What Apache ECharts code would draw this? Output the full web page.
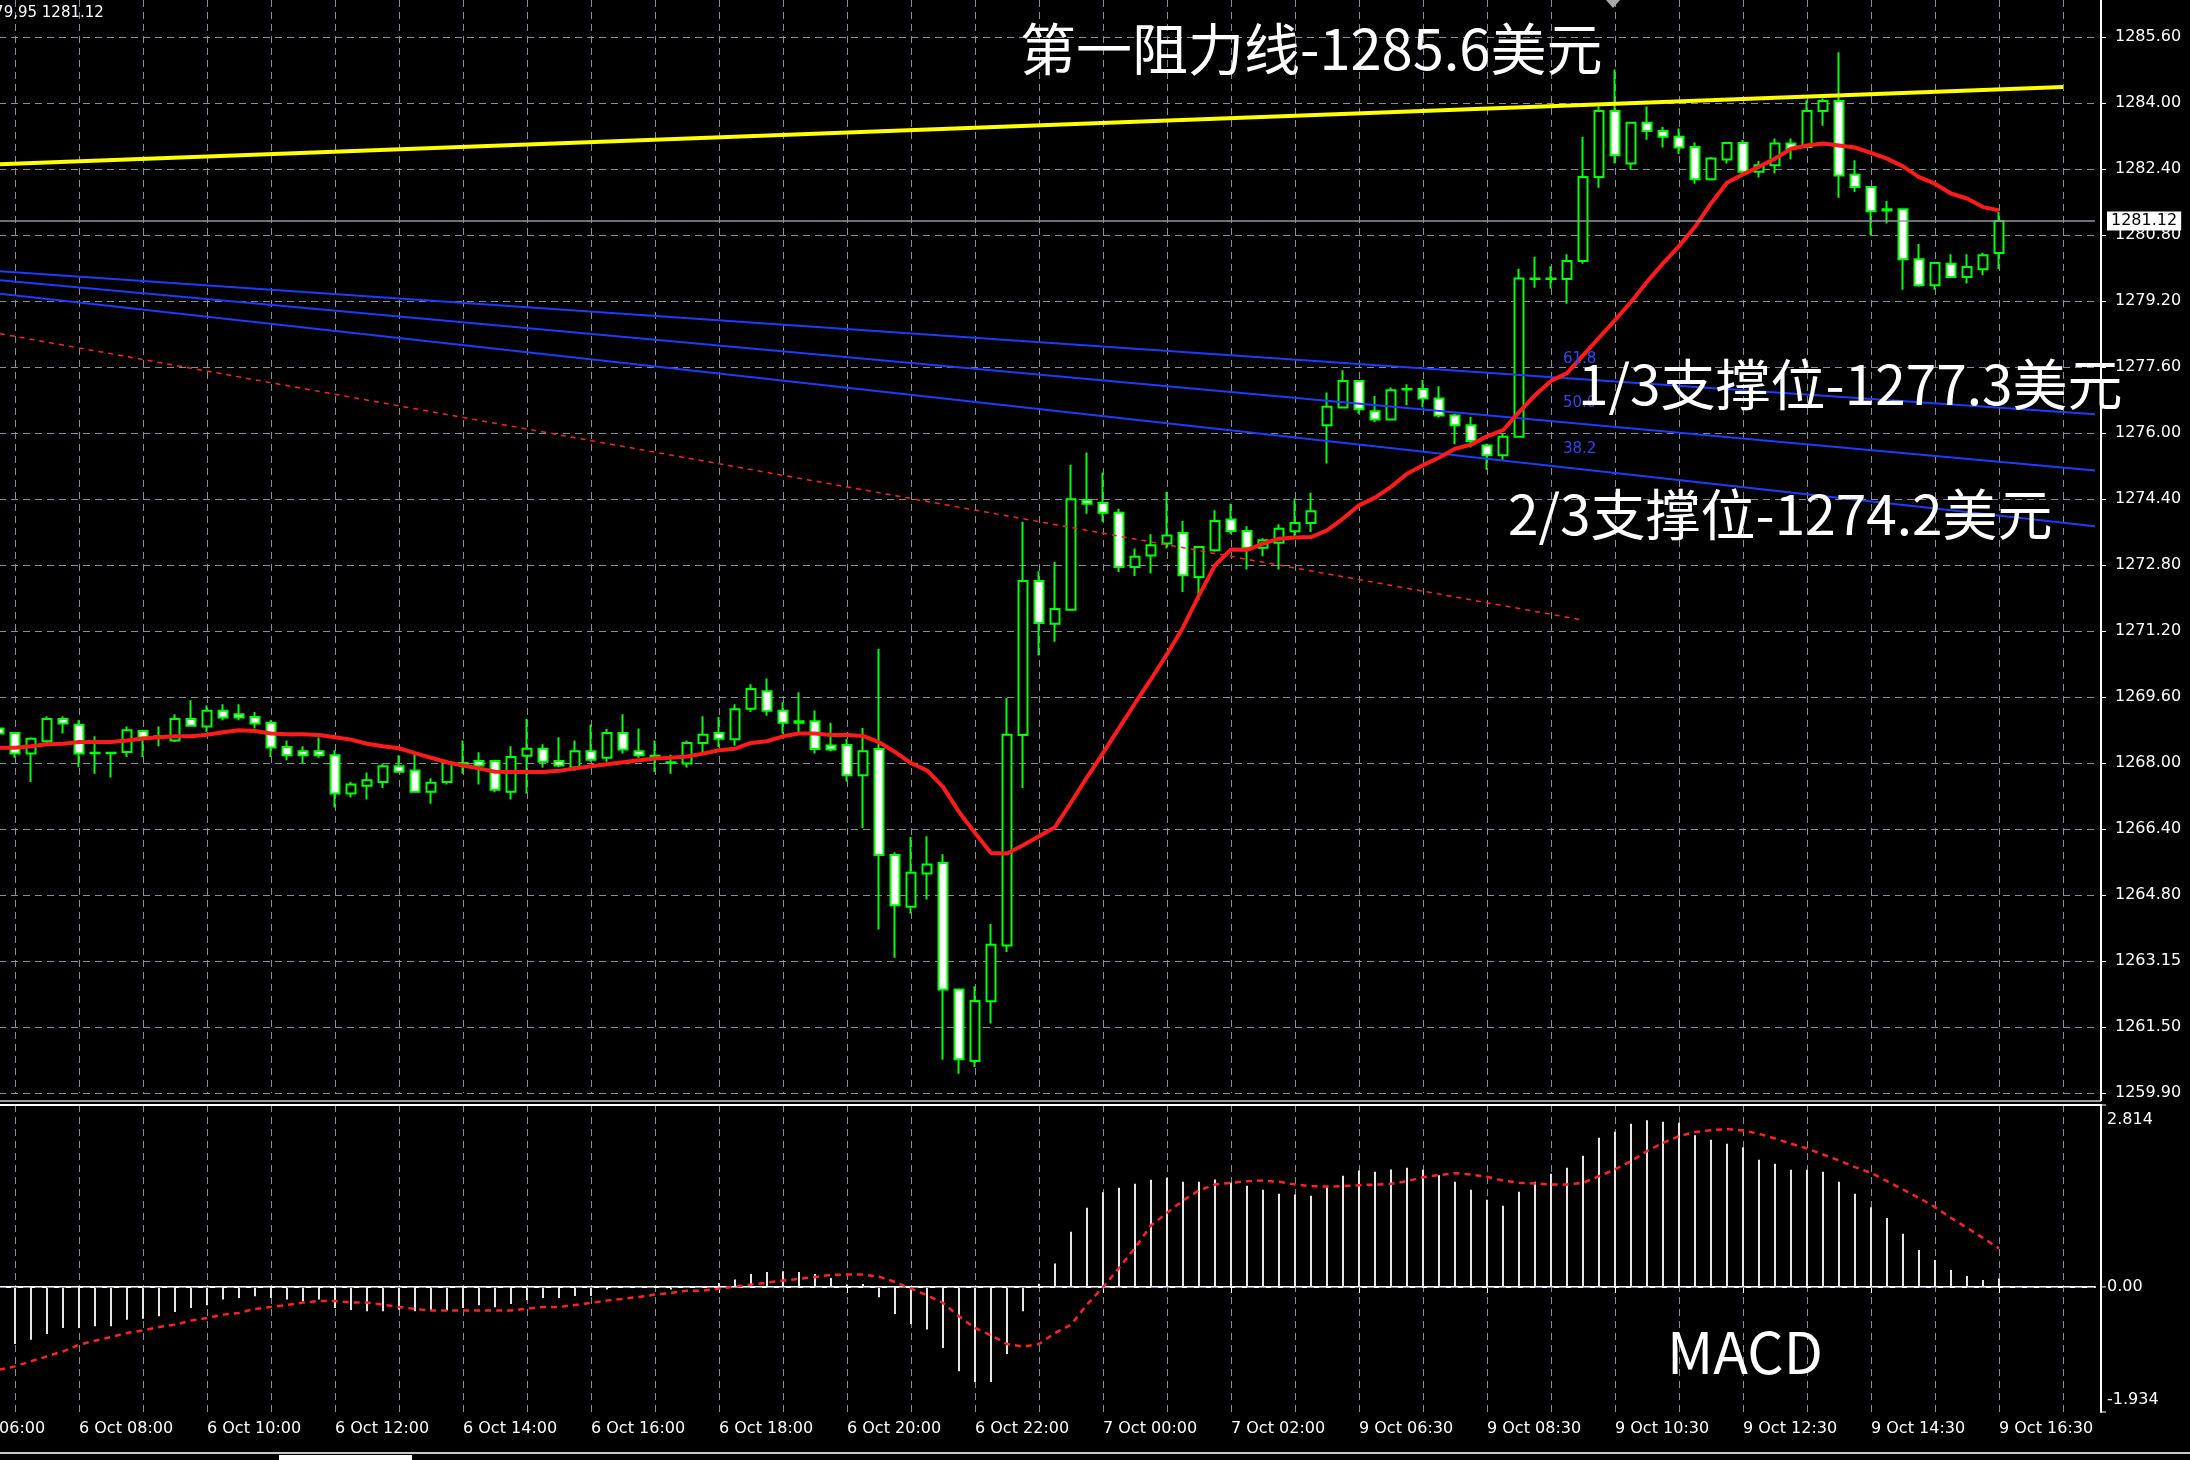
<!DOCTYPE html>
<html>
<head>
<meta charset="utf-8">
<script src="https://cdn.jsdelivr.net/npm/echarts@6/dist/echarts.min.js"></script>
<style>
  html, body { margin: 0; padding: 0; background: #000; }
  #chart { width: 2190px; height: 1460px; }
</style>
</head>
<body>
<div id="chart"></div>
<script>
// XAUUSD, M15 bars. First drawn bar is 6 Oct 06:45 (cut by the left edge), last is 9 Oct 16:30.
const open = [1268.77,1268.66,1268.16,1268.46,1269.00,1268.86,1268.18,1268.18,1268.20,1268.71,
  1268.55,1268.48,1269.00,1268.82,1269.20,1269.12,1269.05,1268.91,1268.32,1268.22,
  1268.22,1268.12,1267.19,1267.38,1267.47,1267.85,1267.75,1267.23,1267.47,1267.93,
  1267.98,1267.98,1267.23,1268.11,1268.28,1267.98,1267.82,1268.22,1268.06,1268.66,
  1268.22,1268.11,1267.95,1267.92,1268.42,1268.66,1268.51,1269.25,1269.68,1269.20,
  1268.95,1268.95,1268.36,1268.37,1267.63,1268.27,1265.69,1264.43,1265.24,1265.50,
  1262.42,1260.68,1262.13,1263.49,1268.61,1272.36,1271.32,1271.66,1274.33,1274.26,
  1274.02,1272.70,1272.98,1273.27,1273.53,1272.46,1273.11,1273.86,1273.58,1273.17,
  1273.29,1273.57,1273.77,1276.15,1276.58,1277.23,1276.49,1276.29,1277.03,1277.03,
  1276.80,1276.39,1276.15,1275.66,1275.42,1275.87,1279.72,1279.71,1279.71,1280.15,
  1282.19,1283.80,1282.52,1283.51,1283.31,1283.17,1282.92,1282.14,1282.62,1283.02,
  1282.32,1282.48,1283.01,1282.92,1283.80,1284.04,1282.25,1281.95,1281.38,1281.41,
  1280.19,1279.56,1280.08,1279.76,1279.95,1280.34];
const high = [1268.79,1268.68,1268.55,1269.07,1269.07,1268.97,1268.58,1268.19,1268.82,1268.74,
  1268.82,1269.12,1269.46,1269.33,1269.36,1269.36,1269.17,1268.97,1268.48,1268.34,
  1268.55,1268.24,1267.47,1267.70,1267.92,1268.12,1268.16,1267.56,1268.01,1268.48,
  1268.19,1268.01,1268.34,1269.01,1268.39,1268.56,1268.48,1268.87,1268.76,1269.12,
  1268.77,1268.48,1268.13,1268.48,1269.07,1269.05,1269.36,1269.85,1269.99,1269.41,
  1269.65,1269.21,1268.91,1268.52,1268.78,1270.71,1265.76,1266.13,1266.15,1265.71,
  1262.44,1262.50,1264.01,1269.51,1273.80,1272.60,1272.82,1275.19,1275.49,1275.00,
  1274.12,1273.15,1273.50,1274.53,1273.82,1273.21,1274.08,1274.24,1273.69,1273.40,
  1273.74,1274.37,1274.51,1276.95,1277.49,1277.25,1276.86,1277.07,1277.15,1277.25,
  1277.10,1276.43,1276.35,1275.70,1275.96,1279.96,1280.25,1280.02,1280.31,1283.17,
  1283.91,1284.81,1283.51,1283.91,1283.41,1283.37,1283.03,1282.68,1283.02,1283.09,
  1282.58,1283.13,1283.13,1284.06,1284.10,1285.23,1282.60,1281.97,1281.61,1281.42,
  1280.56,1280.13,1280.31,1280.31,1280.35,1281.34];
const low = [1268.62,1268.06,1267.47,1268.40,1268.65,1267.83,1267.67,1267.58,1268.08,1268.08,
  1268.34,1268.44,1268.82,1268.69,1268.97,1268.97,1268.77,1268.08,1268.00,1267.92,
  1268.06,1266.85,1267.09,1267.04,1267.32,1267.71,1267.22,1266.94,1267.41,1267.67,
  1267.41,1267.22,1267.04,1267.19,1267.82,1267.83,1267.74,1267.96,1267.96,1268.16,
  1268.06,1267.71,1267.67,1267.82,1268.20,1268.32,1268.35,1269.17,1269.08,1268.65,
  1268.65,1268.16,1268.22,1267.48,1266.35,1263.88,1263.19,1264.27,1264.61,1260.71,
  1260.37,1260.53,1261.59,1263.33,1267.32,1270.55,1270.88,1271.65,1274.00,1273.80,
  1272.58,1272.48,1272.54,1273.15,1272.09,1271.89,1273.07,1273.51,1272.64,1272.96,
  1272.64,1273.45,1273.55,1275.22,1276.56,1276.43,1276.23,1276.27,1276.64,1276.58,
  1276.34,1275.69,1275.61,1275.07,1275.31,1275.85,1279.50,1279.48,1279.11,1280.08,
  1281.93,1282.52,1282.37,1283.10,1282.91,1282.75,1282.03,1282.11,1282.52,1282.28,
  1282.18,1282.28,1282.62,1282.91,1283.44,1281.69,1281.83,1280.77,1281.06,1279.45,
  1279.52,1279.45,1279.74,1279.60,1279.80,1279.95];
const close = [1268.65,1268.16,1268.52,1269.00,1268.89,1268.16,1268.17,1268.17,1268.73,1268.55,
  1268.58,1269.00,1268.84,1269.20,1269.04,1269.04,1268.89,1268.31,1268.12,1268.12,
  1268.12,1267.19,1267.41,1267.51,1267.85,1267.72,1267.23,1267.45,1267.93,1267.90,
  1267.87,1267.28,1268.08,1268.28,1267.96,1267.87,1268.22,1268.01,1268.66,1268.26,
  1268.12,1268.09,1267.93,1268.42,1268.62,1268.52,1269.24,1269.73,1269.20,1268.91,
  1268.91,1268.27,1268.26,1267.63,1268.22,1265.69,1264.47,1265.26,1265.46,1262.42,
  1260.72,1262.14,1263.51,1268.62,1272.36,1271.34,1271.68,1274.35,1274.24,1274.02,
  1272.70,1272.95,1273.23,1273.47,1272.50,1273.19,1273.82,1273.58,1273.17,1273.35,
  1273.63,1273.77,1274.06,1276.60,1277.23,1276.54,1276.29,1277.00,1277.02,1276.80,
  1276.39,1276.15,1275.77,1275.42,1275.87,1279.72,1279.71,1279.72,1280.15,1282.19,
  1283.80,1282.72,1283.51,1283.31,1283.17,1282.91,1282.14,1282.64,1283.02,1282.32,
  1282.48,1283.01,1282.88,1283.80,1284.04,1282.23,1281.95,1281.36,1281.41,1280.19,
  1279.56,1280.10,1279.76,1280.00,1280.29,1281.12];
// moving average drawn over the candles
const ma = [1268.30,1268.30,1268.34,1268.39,1268.40,1268.44,1268.44,1268.44,1268.48,1268.53,
  1268.56,1268.58,1268.58,1268.62,1268.68,1268.73,1268.71,1268.65,1268.63,1268.63,
  1268.61,1268.56,1268.50,1268.40,1268.34,1268.29,1268.17,1268.06,1267.95,1267.87,
  1267.80,1267.72,1267.71,1267.71,1267.71,1267.74,1267.80,1267.85,1267.90,1267.95,
  1268.00,1268.04,1268.06,1268.09,1268.16,1268.24,1268.28,1268.42,1268.46,1268.58,
  1268.65,1268.65,1268.61,1268.61,1268.59,1268.44,1268.20,1267.93,1267.75,1267.35,
  1266.74,1266.23,1265.74,1265.73,1265.93,1266.15,1266.37,1266.97,1267.58,1268.17,
  1268.78,1269.38,1269.97,1270.58,1271.23,1272.01,1272.74,1273.13,1273.12,1273.27,
  1273.39,1273.42,1273.43,1273.59,1273.88,1274.20,1274.39,1274.65,1274.97,1275.18,
  1275.36,1275.58,1275.68,1275.88,1276.03,1276.47,1276.88,1277.23,1277.42,1277.85,
  1278.28,1278.71,1279.15,1279.64,1280.09,1280.51,1280.98,1281.55,1282.05,1282.26,
  1282.44,1282.64,1282.88,1282.96,1283.01,1282.96,1282.91,1282.78,1282.64,1282.45,
  1282.19,1282.03,1281.79,1281.67,1281.46,1281.38];
// MACD histogram and signal, one value per bar
const macdHist = [-0.944,-0.882,-0.815,-0.727,-0.634,-0.634,-0.609,-0.609,-0.506,-0.490,
  -0.454,-0.387,-0.325,-0.284,-0.196,-0.170,-0.144,-0.170,-0.196,-0.222,
  -0.196,-0.325,-0.356,-0.377,-0.377,-0.351,-0.377,-0.366,-0.366,-0.325,
  -0.284,-0.315,-0.263,-0.201,-0.170,-0.170,-0.139,-0.139,-0.041,-0.015,
  -0.005,0.003,-0.041,-0.005,0.010,0.062,0.114,0.201,0.232,0.243,
  0.232,0.201,0.139,0.036,0.046,-0.160,-0.418,-0.573,-0.660,-0.944,
  -1.305,-1.471,-1.471,-1.037,-0.377,0.050,0.362,0.852,1.223,1.466,
  1.533,1.595,1.657,1.688,1.626,1.626,1.662,1.610,1.564,1.502,
  1.440,1.430,1.409,1.543,1.719,1.801,1.781,1.817,1.842,1.811,
  1.729,1.626,1.502,1.347,1.254,1.471,1.626,1.750,1.842,2.028,
  2.307,2.400,2.524,2.580,2.554,2.539,2.348,2.276,2.214,2.162,
  1.966,1.904,1.811,1.811,1.781,1.626,1.440,1.234,1.068,0.821,
  0.573,0.418,0.263,0.170,0.108,0.129];
const macdSignal = [-1.279,-1.228,-1.150,-1.073,-0.996,-0.893,-0.831,-0.774,-0.712,-0.671,
  -0.619,-0.583,-0.521,-0.480,-0.428,-0.402,-0.340,-0.310,-0.278,-0.242,
  -0.217,-0.217,-0.242,-0.242,-0.273,-0.310,-0.340,-0.366,-0.366,-0.366,
  -0.366,-0.366,-0.366,-0.335,-0.310,-0.310,-0.278,-0.247,-0.211,-0.185,
  -0.154,-0.118,-0.093,-0.057,-0.057,-0.026,0.005,0.036,0.067,0.098,
  0.124,0.155,0.186,0.191,0.191,0.160,0.077,-0.026,-0.129,-0.247,
  -0.454,-0.635,-0.748,-0.882,-0.923,-0.882,-0.712,-0.583,-0.273,-0.005,
  0.294,0.604,0.950,1.146,1.337,1.492,1.584,1.610,1.636,1.646,
  1.626,1.584,1.559,1.553,1.559,1.574,1.584,1.595,1.636,1.698,
  1.729,1.760,1.739,1.703,1.646,1.610,1.600,1.584,1.584,1.610,
  1.713,1.817,1.946,2.100,2.229,2.333,2.395,2.425,2.441,2.420,
  2.369,2.296,2.214,2.142,2.049,1.956,1.853,1.765,1.636,1.507,
  1.378,1.234,1.068,0.914,0.759,0.594];

// price scale labels, bottom to top, one per grid step
const priceTicks = ['1259.90','1261.50','1263.15','1264.80','1266.40','1268.00','1269.60','1271.20',
  '1272.80','1274.40','1276.00','1277.60','1279.20','1280.80','1282.40','1284.00','1285.60'];
const priceStep = 1.60625;
const priceMin = 1259.9, priceMax = 1286.5;
const macdMin = -1.934, macdMax = 2.814;
const macdTicks = [2.814, 0, -1.934];

// bar slots of the two trading sessions shown (15-minute bars)
const sessions = [
  { day: 6, startMin: 6 * 60, bars: 86 },
  { day: 9, startMin: 6 * 60, bars: 49 }
];
const firstBarSlot = 3;

// drawn lines as [slot, price] end points
const resistanceLine = [[3.06, 1282.50], [132.0, 1284.38]];
const fanLines = [
  [[3.06, 1279.90], [134, 1276.42]],
  [[3.06, 1279.68], [134, 1275.05]],
  [[3.06, 1279.35], [134, 1273.69]]
];
const fanLevels = ['61.8', '50.0', '38.2'];
const trendChannel = [[3.06, 1278.38], [101.84, 1271.42]];

const notes = [
  { text: '第一阻力线-1285.6美元', x: 1020, y: 49, size: 56 },
  { text: '1/3支撑位-1277.3美元', x: 1578, y: 384, size: 55 },
  { text: '2/3支撑位-1274.2美元', x: 1508, y: 514, size: 55 }
];

// ---------- build slots ----------
const pad = n => (n < 10 ? '0' : '') + n;
const slots = [];
sessions.forEach(s => {
  for (let k = 0; k < s.bars; k++) {
    const m = s.startMin + 15 * k;
    const d = s.day + Math.floor(m / 1440);
    const mm = m % 1440;
    slots.push(d + ' Oct ' + pad(Math.floor(mm / 60)) + ':' + pad(mm % 60));
  }
});
const byBar = arr => slots.map((_, i) => {
  const j = i - firstBarSlot;
  return (j >= 0 && j < arr.length) ? arr[j] : '-';
});
const candleData = slots.map((_, i) => {
  const j = i - firstBarSlot;
  if (j < 0 || j >= open.length) return ['-', '-', '-', '-'];
  return [open[j], close[j], low[j], high[j]];
});
const lastClose = close[close.length - 1];

const GRID = '#7f8fa0';
const DASH = [7, 5];
const AXIS_FONT = 'DejaVu Sans';
const CJK_FONT = 'Noto Sans CJK SC';

const option = {
  backgroundColor: '#000000',
  animation: false,
  grid: [
    { left: -49, top: 0, width: 2144, height: 1093, containLabel: false, outerBoundsMode: 'none' },
    { left: -49, top: 1105, width: 2144, height: 307, containLabel: false, outerBoundsMode: 'none' }
  ],
  xAxis: [
    {
      type: 'category', gridIndex: 0, data: slots, boundaryGap: false,
      axisLine: { show: false }, axisTick: { show: false }, axisLabel: { show: false },
      splitLine: { show: true, interval: 3, lineStyle: { color: GRID, type: DASH, width: 1 } }
    },
    { type: 'value', gridIndex: 0, min: 0, max: slots.length - 1, show: false },
    {
      type: 'category', gridIndex: 1, data: slots, boundaryGap: false,
      axisLine: { show: true, lineStyle: { color: '#ffffff', width: 2 } },
      axisTick: { show: true, interval: 7, length: 6, lineStyle: { color: '#ffffff', width: 1 } },
      axisLabel: {
        show: true, interval: 7, align: 'left', color: '#ffffff',
        fontFamily: AXIS_FONT, fontSize: 16, margin: 9, hideOverlap: false
      },
      splitLine: { show: true, interval: 3, lineStyle: { color: GRID, type: DASH, width: 1 } }
    }
  ],
  yAxis: [
    { type: 'value', gridIndex: 0, min: priceMin, max: priceMax, position: 'right', show: false },
    {
      type: 'value', gridIndex: 0, position: 'right', offset: 6,
      min: 0, max: (priceMax - priceMin) / priceStep, interval: 1,
      axisLine: { show: true, lineStyle: { color: '#ffffff', width: 2 } },
      axisTick: { show: true, inside: false, length: 5, lineStyle: { color: '#ffffff', width: 1 } },
      axisLabel: {
        show: true, color: '#ffffff', fontFamily: AXIS_FONT, fontSize: 16, margin: 14,
        showMaxLabel: false,
        formatter: v => {
          const k = Math.round(v);
          return (Math.abs(v - k) < 1e-6 && priceTicks[k]) ? priceTicks[k] : '';
        }
      },
      splitLine: { show: true, showMaxLine: false, lineStyle: { color: GRID, type: DASH, width: 1 } }
    },
    {
      type: 'value', gridIndex: 1, position: 'right', offset: 6, min: macdMin, max: macdMax,
      axisLine: { show: true, lineStyle: { color: '#ffffff', width: 2 } },
      axisTick: { show: false }, axisLabel: { show: false }, splitLine: { show: false }
    }
  ],
  series: [
    {
      name: 'XAUUSD', type: 'candlestick', xAxisIndex: 0, yAxisIndex: 0,
      data: candleData, barWidth: 9, z: 2,
      itemStyle: {
        color: '#000000', color0: '#ffffff',
        borderColor: '#00ff00', borderColor0: '#00ff00', borderColorDoji: '#00ff00',
        borderWidth: 2
      },
      markLine: {
        silent: true, symbol: ['none', 'none'], animation: false,
        data: [{ yAxis: lastClose }],
        lineStyle: { color: '#8c98a4', type: 'solid', width: 1.5 },
        label: {
          show: true, position: 'end', distance: 12,
          formatter: () => lastClose.toFixed(2),
          color: '#000000', backgroundColor: '#ffffff',
          fontFamily: AXIS_FONT, fontSize: 16, padding: [2, 4, 1, 4]
        }
      }
    },
    {
      name: 'MA', type: 'line', xAxisIndex: 0, yAxisIndex: 0, data: byBar(ma),
      showSymbol: false, symbol: 'none', z: 4,
      lineStyle: { color: '#ff1a1a', width: 4 }
    },
    {
      name: 'resistance', type: 'line', xAxisIndex: 1, yAxisIndex: 0, data: resistanceLine,
      symbol: 'none', z: 3, lineStyle: { color: '#ffff00', width: 4 }
    },
    ...fanLines.map((pts, n) => ({
      name: 'fan ' + fanLevels[n], type: 'line', xAxisIndex: 1, yAxisIndex: 0, data: pts,
      symbol: 'none', z: 3, lineStyle: { color: '#1a3cff', width: 2 }
    })),
    {
      name: 'channel', type: 'line', xAxisIndex: 1, yAxisIndex: 0, data: trendChannel,
      symbol: 'none', z: 3, lineStyle: { color: '#ff2020', width: 1.5, type: [5, 5] }
    },
    {
      name: 'MACD', type: 'bar', xAxisIndex: 2, yAxisIndex: 2, data: byBar(macdHist),
      barWidth: 2, itemStyle: { color: '#e6e6e6' }, z: 2,
      markLine: {
        silent: true, symbol: ['none', 'none'], animation: false,
        data: [{ yAxis: 0 }], label: { show: false },
        lineStyle: { color: GRID, type: DASH, width: 1 }
      }
    },
    {
      name: 'Signal', type: 'line', xAxisIndex: 2, yAxisIndex: 2, data: byBar(macdSignal),
      showSymbol: false, symbol: 'none', z: 4,
      lineStyle: { color: '#ff2020', width: 2.5, type: [6, 5] }
    }
  ]
};

const chart = echarts.init(document.getElementById('chart'), null, { renderer: 'canvas' });
chart.setOption(option);

// labels and decorations placed once the scales exist
const graphics = [];
macdTicks.forEach((v, n) => {
  const y = chart.convertToPixel({ yAxisIndex: 2 }, v);
  const dy = n === 0 ? 15 : (n === 2 ? -12 : 0);
  graphics.push({
    type: 'text', x: 2107, y: y + dy, z: 10,
    style: { text: v === 0 ? '0.00' : String(v), fill: '#ffffff', font: '16px "DejaVu Sans"', align: 'left', verticalAlign: 'middle' }
  });
  graphics.push({
    type: 'line', z: 10, shape: { x1: 2101, y1: y, x2: 2106, y2: y },
    style: { stroke: '#ffffff', lineWidth: 1 }
  });
});
notes.forEach(nt => graphics.push({
  type: 'text', x: nt.x, y: nt.y, z: 20,
  style: { text: nt.text, fill: '#ffffff', font: nt.size + 'px "' + CJK_FONT + '"', align: 'left', verticalAlign: 'middle' }
}));
graphics.push({
  type: 'text', x: 1667, y: 1352, z: 20,
  style: { text: 'MACD', fill: '#ffffff', font: '57px "' + CJK_FONT + '"', align: 'left', verticalAlign: 'middle' }
});
[359, 403, 449].forEach((y, n) => graphics.push({
  type: 'text', x: 1563, y: y, z: 12,
  style: { text: fanLevels[n], fill: '#2a46ff', font: '15px "DejaVu Sans"', align: 'left', verticalAlign: 'middle' }
}));
graphics.push({
  type: 'text', x: -25, y: 13, z: 12,
  style: { text: '1279,95 1281.12', fill: '#ffffff', font: '15px "DejaVu Sans"', align: 'left', verticalAlign: 'middle' }
});
// pane separators and frame
graphics.push({ type: 'line', z: 9, shape: { x1: 0, y1: 1101, x2: 2101, y2: 1101 }, style: { stroke: '#9a9a9a', lineWidth: 2 } });
graphics.push({ type: 'line', z: 9, shape: { x1: 0, y1: 1105, x2: 2102, y2: 1105 }, style: { stroke: '#ffffff', lineWidth: 2 } });
graphics.push({ type: 'line', z: 9, shape: { x1: 2101, y1: 0, x2: 2101, y2: 1101 }, style: { stroke: '#ffffff', lineWidth: 2 } });
// chart shift marker at the top
graphics.push({ type: 'polygon', z: 9, shape: { points: [[1606, 0], [1620, 0], [1613, 8]] }, style: { fill: '#a8a8a8' } });
// tab strip under the chart
graphics.push({ type: 'line', z: 9, shape: { x1: 0, y1: 1453, x2: 2190, y2: 1453 }, style: { stroke: '#c8c8c8', lineWidth: 2 } });
graphics.push({ type: 'rect', z: 9, shape: { x: 279, y: 1455, width: 133, height: 5 }, style: { fill: '#ffffff' } });

chart.setOption({ graphic: graphics });
</script>
</body>
</html>
